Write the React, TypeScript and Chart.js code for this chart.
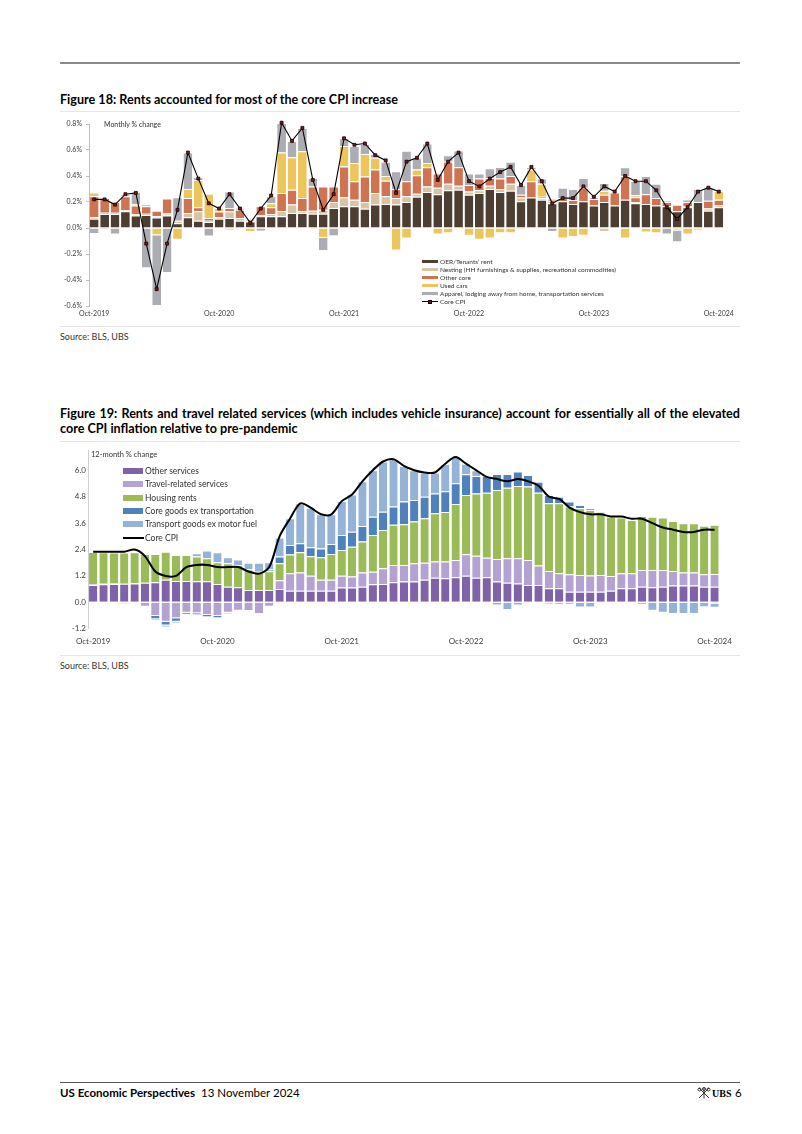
import React, { useEffect, useRef } from "react";
import { Chart, registerables } from "chart.js";

Chart.register(...registerables);

// ---------- categories ----------
const MONTH_NAMES = ["Jan", "Feb", "Mar", "Apr", "May", "Jun", "Jul", "Aug", "Sep", "Oct", "Nov", "Dec"];
const categories: string[] = [];
for (let i = 0; i < 61; i++) {
  const m = (9 + i) % 12;
  const y = 2019 + Math.floor((9 + i) / 12);
  categories.push(`${MONTH_NAMES[m]}-${y}`);
}
const xTickLabels = ["Oct-2019", "Oct-2020", "Oct-2021", "Oct-2022", "Oct-2023", "Oct-2024"];

// ---------- Figure 18 (monthly % change, contributions) ----------
const oerRent = [
  0.072, 0.108, 0.108, 0.128, 0.097, 0.1, 0.08, 0.097, 0.036, 0.082,
  0.056, 0.046, 0.072, 0.077, 0.056, 0.05, 0.09, 0.09, 0.09, 0.115,
  0.115, 0.11, 0.11, 0.154, 0.167, 0.167, 0.149, 0.18, 0.185, 0.18,
  0.2, 0.24, 0.277, 0.26, 0.29, 0.295, 0.256, 0.27, 0.3, 0.277,
  0.287, 0.205, 0.235, 0.218, 0.19, 0.205, 0.185, 0.205, 0.174, 0.2,
  0.174, 0.218, 0.19, 0.185, 0.174, 0.167, 0.128, 0.16, 0.2, 0.133,
  0.16,
];
const nesting = [
  0.01, 0.01, 0.01, 0.01, 0.01, 0.01, 0.01, 0.015, 0.02, 0.033,
  0.072, 0.01, 0.01, 0.051, 0.021, 0.005, 0.01, 0.018, 0.04, 0.065,
  0.013, 0.023, 0.03, 0.046, 0.069, 0.051, 0.051, 0.09, 0.059, 0.05,
  0.044, 0.024, 0.043, 0.05, 0.05, 0.03, 0.024, 0.02, 0.025, 0.023,
  0.053, 0.03, 0.0, 0.01, 0.015, 0.0, 0.0, 0.0, 0.0, -0.03,
  0.0, 0.0, 0.01, -0.005, 0.0, 0.0, 0.0, 0.005, 0.0, 0.017,
  0.013,
];
const otherCore = [
  0.162, 0.112, 0.082, 0.106, 0.067, 0.057, 0.043, 0.114, 0.0, 0.115,
  0.032, 0.021, 0.045, 0.026, 0.064, 0.01, 0.067, 0.052, 0.14, 0.115,
  0.102, 0.187, 0.18, 0.12, 0.238, 0.142, 0.197, 0.18, 0.12, 0.07,
  0.116, 0.141, 0.147, 0.11, 0.17, 0.142, 0.05, 0.09, 0.06, 0.08,
  0.06, 0.021, 0.125, 0.012, 0.013, 0.025, 0.03, 0.105, 0.05, 0.056,
  0.1, 0.18, 0.036, 0.075, 0.056, 0.033, 0.05, 0.035, 0.0, 0.06,
  0.045,
];
const usedCars = [
  0.03, 0.0, 0.0, 0.0, 0.011, 0.018, -0.056, 0.0, -0.09, 0.07,
  0.21, 0.187, 0.025, -0.02, 0.0, -0.03, 0.0, 0.03, 0.31, 0.25,
  0.36, -0.01, -0.077, 0.0, 0.156, 0.14, 0.173, 0.09, 0.036, -0.174,
  -0.08, 0.045, 0.033, -0.05, -0.04, -0.01, -0.06, -0.09, -0.08, -0.04,
  -0.04, -0.01, 0.09, 0.1, 0.01, -0.08, -0.07, -0.06, 0.0, 0.03,
  0.0, -0.08, 0.015, -0.03, -0.04, 0.01, -0.02, -0.05, -0.02, 0.0,
  0.069,
];
const apparelEtc = [
  -0.046, -0.01, -0.05, 0.016, 0.092, -0.31, -0.544, -0.346, 0.18, 0.28,
  0.02, -0.065, 0.0, 0.126, 0.013, 0.005, -0.026, 0.055, 0.24, 0.125,
  0.18, 0.065, -0.1, -0.064, 0.06, 0.13, 0.076, 0.03, 0.11, 0.136,
  0.235, 0.09, 0.15, 0.0, 0.05, 0.13, 0.09, 0.04, 0.075, 0.09,
  0.11, 0.074, 0.02, 0.04, -0.03, 0.08, 0.085, 0.075, 0.015, 0.06,
  0.0, 0.07, 0.11, 0.14, 0.11, -0.05, -0.09, 0.02, 0.1, 0.1,
  0.0,
];
const coreCpiMonthly = [
  0.22, 0.22, 0.18, 0.26, 0.27, -0.12, -0.47, -0.12, 0.14, 0.58,
  0.38, 0.19, 0.15, 0.26, 0.15, 0.04, 0.15, 0.25, 0.81, 0.67,
  0.77, 0.37, 0.14, 0.26, 0.69, 0.64, 0.65, 0.56, 0.52, 0.27,
  0.51, 0.54, 0.65, 0.37, 0.51, 0.58, 0.36, 0.32, 0.38, 0.43,
  0.47, 0.33, 0.47, 0.36, 0.19, 0.23, 0.23, 0.32, 0.24, 0.32,
  0.28, 0.4, 0.36, 0.36, 0.29, 0.16, 0.07, 0.16, 0.28, 0.31,
  0.28,
];
const fig18YTicks = [-0.6, -0.4, -0.2, 0.0, 0.2, 0.4, 0.6, 0.8];

// ---------- Figure 19 (12-month % change, contributions) ----------
const otherServices = [
  0.79, 0.82, 0.83, 0.84, 0.86, 0.89, 0.91, 1.02, 0.97, 0.97,
  0.96, 0.96, 0.83, 0.71, 0.68, 0.56, 0.56, 0.56, 0.6, 0.53,
  0.53, 0.53, 0.53, 0.53, 0.67, 0.67, 0.71, 0.82, 0.83, 0.91,
  0.94, 0.94, 1.02, 1.12, 1.09, 1.14, 1.21, 1.12, 1.14, 0.94,
  0.89, 0.86, 0.79, 0.79, 0.64, 0.64, 0.48, 0.48, 0.48, 0.48,
  0.52, 0.64, 0.64, 0.71, 0.68, 0.71, 0.76, 0.76, 0.76, 0.71,
  0.71,
];
const travelServices = [
  0.03, 0.02, 0.02, -0.07, 0.01, -0.2, -0.62, -0.88, -0.73, -0.47,
  -0.5, -0.58, -0.62, -0.47, -0.38, -0.4, -0.53, -0.2, 0.4, 0.79,
  0.83, 0.68, 0.49, 0.49, 0.54, 0.5, 0.65, 0.57, 0.72, 0.79,
  0.76, 0.83, 0.78, 0.73, 0.77, 0.78, 0.97, 1.0, 0.89, 1.03,
  1.11, 1.14, 1.13, 0.88, 0.78, 0.68, 0.79, 0.76, 0.74, 0.76,
  0.68, 0.68, 0.68, 0.76, 0.79, 0.76, 0.66, 0.6, 0.59, 0.56,
  0.58,
];
const housingRents = [
  1.47, 1.43, 1.41, 1.42, 1.4, 1.31, 1.29, 1.28, 1.18, 1.18,
  1.12, 1.04, 0.99, 1.06, 1.02, 0.94, 0.83, 0.85, 0.77, 0.85,
  0.91, 0.88, 1.03, 1.18, 1.17, 1.36, 1.4, 1.67, 1.74, 1.82,
  1.85, 1.9, 2.02, 2.2, 2.25, 2.55, 2.7, 2.83, 2.95, 3.14,
  3.21, 3.29, 3.34, 3.31, 3.08, 3.18, 3.08, 3.03, 2.98, 2.88,
  2.7, 2.53, 2.42, 2.45, 2.42, 2.38, 2.28, 2.23, 2.24, 2.21,
  2.23,
];
const coreGoodsExTransport = [
  0, 0, 0, 0, 0, 0, -0.15, -0.18, -0.15, -0.1,
  -0.09, -0.1, -0.1, -0.05, 0, 0, 0, 0.08, 0.31, 0.43,
  0.41, 0.41, 0.4, 0.45, 0.68, 0.68, 0.71, 0.83, 0.83, 0.83,
  1.03, 0.98, 0.98, 0.9, 0.94, 0.94, 0.94, 0.79, 0.76, 0.72,
  0.62, 0.65, 0.53, 0.5, 0.38, 0.3, 0.23, 0.15, 0.07, 0.0,
  0, 0, 0, -0.03, -0.03, -0.03, -0.03, -0.03, -0.03, -0.03,
  -0.05,
];
const transportGoodsExFuel = [
  0, 0, 0, 0, 0, 0, -0.06, -0.07, -0.07, 0,
  0.15, 0.35, 0.45, 0.28, 0.25, 0.3, 0.41, 0.33, 0.87, 1.22,
  1.82, 1.8, 1.55, 1.35, 1.54, 1.69, 2.03, 2.11, 2.28, 2.15,
  1.62, 1.35, 1.1, 0.95, 1.24, 1.19, 0.48, 0.26, -0.05, -0.15,
  -0.35, -0.15, -0.05, 0, -0.08, -0.1, -0.1, -0.24, -0.24, -0.05,
  -0.02, 0, -0.02, -0.08, -0.35, -0.45, -0.5, -0.5, -0.5, -0.2,
  -0.2,
];
const coreCpiYoY = [
  2.3, 2.3, 2.3, 2.3, 2.4, 2.1, 1.4, 1.2, 1.2, 1.6,
  1.7, 1.7, 1.6, 1.6, 1.6, 1.4, 1.3, 1.6, 3.0, 3.8,
  4.5, 4.3, 4.0, 4.0, 4.6, 4.9, 5.5, 6.0, 6.4, 6.5,
  6.2, 6.0, 5.9, 5.9, 6.3, 6.6, 6.3, 6.0, 5.7, 5.6,
  5.5, 5.6, 5.5, 5.3, 4.8, 4.7, 4.3, 4.1, 4.0, 4.0,
  3.9, 3.9, 3.8, 3.8, 3.6, 3.4, 3.3, 3.2, 3.2, 3.3,
  3.3,
];
const fig19YTicks = [-1.2, 0.0, 1.2, 2.4, 3.6, 4.8, 6.0];

// ---------- styles ----------
const FONT = "Lato, 'Liberation Sans', sans-serif";
const C18 = {
  oer: "#4d3e33",
  nest: "#d9c3a3",
  other: "#cf7452",
  used: "#ecc65c",
  apparel: "#abadb3",
  cpiMarker: "#6e1b1b",
};
const C19 = {
  other: "#8062a8",
  travel: "#b4a2d2",
  housing: "#9bbb59",
  goods: "#4f81bd",
  transport: "#95b3d7",
};

const pickTick = (i: number) => (xTickLabels.includes(categories[i]) ? categories[i] : "");

function useChart(ref: React.RefObject<HTMLCanvasElement | null>, build: (ctx: HTMLCanvasElement) => Chart) {
  useEffect(() => {
    if (!ref.current) return;
    const ch = build(ref.current);
    return () => ch.destroy();
  }, []);
}

function Figure18Chart() {
  const ref = useRef<HTMLCanvasElement | null>(null);
  useChart(ref, (el) => {
    const bar = (label: string, data: number[], color: string) => ({
      type: "bar" as const,
      label,
      data,
      backgroundColor: color,
      borderColor: "#ffffff",
      borderWidth: { top: 1, bottom: 1, left: 0, right: 0 },
      borderSkipped: "start" as const,
      barPercentage: 0.84,
      categoryPercentage: 1,
      order: 1,
      stack: "s",
    });
    return new Chart(el, {
      type: "bar",
      data: {
        labels: categories,
        datasets: [
          {
            type: "line",
            label: "Core CPI",
            data: coreCpiMonthly,
            borderColor: "#000000",
            borderWidth: 1.1,
            pointStyle: "rect",
            pointRadius: 2.1,
            pointBackgroundColor: C18.cpiMarker,
            pointBorderColor: "#200000",
            pointBorderWidth: 0.8,
            tension: 0,
            order: 0,
            stack: "cpi",
            clip: false,
          } as any,
          bar("OER/Tenants' rent", oerRent, C18.oer),
          bar("Nesting (HH furnishings & supplies, recreational commodities)", nesting, C18.nest),
          bar("Other core", otherCore, C18.other),
          bar("Used cars", usedCars, C18.used),
          bar("Apparel, lodging away from home, transportation services", apparelEtc, C18.apparel),
        ],
      },
      options: {
        animation: false,
        responsive: false,
        maintainAspectRatio: false,
        layout: { padding: { top: 14, right: 16, left: 0, bottom: 0 } },
        plugins: { legend: { display: false }, tooltip: { enabled: false } },
        scales: {
          x: {
            stacked: true,
            grid: { display: false, drawTicks: false },
            border: { display: false },
            ticks: {
              autoSkip: false,
              maxRotation: 0,
              minRotation: 0,
              padding: 4,
              color: "#404040",
              font: { family: FONT, size: 7 },
              callback: (_v: any, i: number) => pickTick(i),
            },
            afterFit: (s: any) => {
              s.height = 19;
            },
          },
          y: {
            stacked: true,
            min: fig18YTicks[0],
            max: fig18YTicks[fig18YTicks.length - 1],
            afterBuildTicks: (s: any) => {
              s.ticks = fig18YTicks.map((v) => ({ value: v }));
            },
            ticks: {
              padding: 4,
              color: "#404040",
              font: { family: FONT, size: 7 },
              callback: (v: any) => Number(v).toFixed(1) + "%",
            },
            grid: { drawOnChartArea: false, drawTicks: true, tickLength: 3, color: "#bfbfbf" },
            border: { display: true, color: "#bfbfbf" },
            afterFit: (s: any) => {
              s.width = 49;
            },
          },
        },
      },
    } as any);
  });
  return <canvas ref={ref} width={700} height={215} style={{ position: "absolute", left: 40, top: 110, width: 700, height: 215 }} />;
}

function Figure19Chart() {
  const ref = useRef<HTMLCanvasElement | null>(null);
  useChart(ref, (el) => {
    const bar = (label: string, data: number[], color: string) => ({
      type: "bar" as const,
      label,
      data,
      backgroundColor: color,
      borderColor: "#ffffff",
      borderWidth: { top: 1, bottom: 1, left: 0, right: 0 },
      borderSkipped: "start" as const,
      barPercentage: 0.8,
      categoryPercentage: 1,
      order: 1,
      stack: "s",
    });
    return new Chart(el, {
      type: "bar",
      data: {
        labels: categories,
        datasets: [
          {
            type: "line",
            label: "Core CPI",
            data: coreCpiYoY,
            borderColor: "#000000",
            borderWidth: 2,
            pointRadius: 0,
            tension: 0.3,
            order: 0,
            stack: "cpi",
            clip: false,
          } as any,
          bar("Other services", otherServices, C19.other),
          bar("Travel-related services", travelServices, C19.travel),
          bar("Housing rents", housingRents, C19.housing),
          bar("Core goods ex transportation", coreGoodsExTransport, C19.goods),
          bar("Transport goods ex motor fuel", transportGoodsExFuel, C19.transport),
        ],
      },
      options: {
        animation: false,
        responsive: false,
        maintainAspectRatio: false,
        layout: { padding: { top: 10.5, right: 20, left: 0, bottom: 0 } },
        plugins: { legend: { display: false }, tooltip: { enabled: false } },
        scales: {
          x: {
            stacked: true,
            grid: { display: false, drawTicks: false },
            border: { display: false },
            ticks: {
              autoSkip: false,
              maxRotation: 0,
              minRotation: 0,
              padding: 8,
              color: "#404040",
              font: { family: FONT, size: 8 },
              callback: (_v: any, i: number) => pickTick(i),
            },
            afterFit: (s: any) => {
              s.height = 26.3;
            },
          },
          y: {
            stacked: true,
            min: -1.2,
            max: 6.9,
            afterBuildTicks: (s: any) => {
              s.ticks = fig19YTicks.map((v) => ({ value: v }));
            },
            ticks: {
              padding: 2,
              color: "#404040",
              font: { family: FONT, size: 8 },
              callback: (v: any) => Number(v).toFixed(1),
            },
            grid: { drawOnChartArea: false, drawTicks: false, color: "#d0d0d0" },
            border: { display: true, color: "#d0d0d0" },
            afterFit: (s: any) => {
              s.width = 48;
            },
          },
        },
      },
    } as any);
  });
  return <canvas ref={ref} width={700} height={215} style={{ position: "absolute", left: 40, top: 440, width: 700, height: 215 }} />;
}

const abs = (left: number, top: number, extra: React.CSSProperties = {}): React.CSSProperties => ({
  position: "absolute",
  left,
  top,
  whiteSpace: "nowrap",
  ...extra,
});

function Legend18() {
  const rows: { label: string; color: string; marker?: boolean }[] = [
    { label: "OER/Tenants\u2019 rent", color: C18.oer },
    { label: "Nesting (HH furnishings & supplies, recreational commodities)", color: C18.nest },
    { label: "Other core", color: C18.other },
    { label: "Used cars", color: C18.used },
    { label: "Apparel, lodging away from home, transportation services", color: C18.apparel },
    { label: "Core CPI", color: "#000", marker: true },
  ];
  return (
    <>
      {rows.map((r, k) => {
        const cy = 261.7 + 8 * k;
        return (
          <React.Fragment key={k}>
            {r.marker ? (
              <>
                <div style={abs(422, cy - 0.5, { width: 16, height: 1, background: "#000" })} />
                <div style={abs(428, cy - 2, { width: 4, height: 4, background: C18.cpiMarker, boxSizing: "border-box", border: "0.8px solid #200000" })} />
              </>
            ) : (
              <div style={abs(422, cy - 1.5, { width: 16, height: 3, background: r.color })} />
            )}
            <div style={abs(440, cy - 5, { fontFamily: FONT, fontSize: 6.5, lineHeight: "10px", color: "#333" })}>{r.label}</div>
          </React.Fragment>
        );
      })}
    </>
  );
}

function Legend19() {
  const rows: { label: string; color: string; line?: boolean }[] = [
    { label: "Other services", color: C19.other },
    { label: "Travel-related services", color: C19.travel },
    { label: "Housing rents", color: C19.housing },
    { label: "Core goods ex transportation", color: C19.goods },
    { label: "Transport goods ex motor fuel", color: C19.transport },
    { label: "Core CPI", color: "#000", line: true },
  ];
  return (
    <>
      {rows.map((r, k) => {
        const cy = 471 + 13.33 * k;
        return (
          <React.Fragment key={k}>
            {r.line ? (
              <div style={abs(123, cy - 1, { width: 21, height: 2, background: "#000" })} />
            ) : (
              <div style={abs(123, cy - 3, { width: 20, height: 6, background: r.color })} />
            )}
            <div style={abs(145, cy - 6, { fontFamily: FONT, fontSize: 8.5, lineHeight: "12px", color: "#333" })}>{r.label}</div>
          </React.Fragment>
        );
      })}
    </>
  );
}

function UbsLogo() {
  return (
    <svg width="14" height="12" viewBox="0 0 14 12" style={{ position: "absolute", left: 697, top: 1087 }}>
      <g stroke="#333" strokeWidth="1" fill="none">
        <line x1="2" y1="11" x2="12" y2="1" />
        <line x1="12" y1="11" x2="2" y2="1" />
        <line x1="7" y1="11.5" x2="7" y2="1" />
        <circle cx="7" cy="2" r="1.5" />
        <circle cx="2.5" cy="2.5" r="1.5" />
        <circle cx="11.5" cy="2.5" r="1.5" />
      </g>
    </svg>
  );
}

const titleStyle: React.CSSProperties = { fontFamily: FONT, fontWeight: 700, fontSize: 12.6, color: "#000" };

export default function App() {
  return (
    <div style={{ position: "absolute", left: 0, top: 0, width: 802, height: 1134, background: "#fff", overflow: "hidden" }}>
      {/* top rule */}
      <div style={abs(60, 62, { width: 680, height: 2, background: "#8a8a8a" })} />

      {/* Figure 18 */}
      <div style={abs(60, 92, { ...titleStyle, lineHeight: "16px" })}>
        Figure 18: Rents accounted for most of the core CPI increase
      </div>
      <div style={abs(60, 110.5, { width: 680, height: 1, background: "#e6e6e6" })} />
      <Figure18Chart />
      <div style={abs(104, 118, { fontFamily: FONT, fontSize: 7, lineHeight: "12px", color: "#333" })}>Monthly % change</div>
      <Legend18 />
      <div style={abs(60, 325.5, { width: 680, height: 1, background: "#e6e6e6" })} />
      <div style={abs(60, 331, { fontFamily: FONT, fontSize: 9, lineHeight: "12px", color: "#333" })}>Source: BLS, UBS</div>

      {/* Figure 19 (first line justified to full width, as in the source) */}
      <div style={abs(60, 407, { ...titleStyle, lineHeight: "14.5px", width: 680, textAlign: "justify", textAlignLast: "justify" as any })}>
        Figure 19: Rents and travel related services (which includes vehicle insurance) account for essentially all of the elevated
      </div>
      <div style={abs(60, 421.5, { ...titleStyle, lineHeight: "14.5px" })}>core CPI inflation relative to pre-pandemic</div>
      <div style={abs(60, 440.5, { width: 680, height: 1, background: "#e6e6e6" })} />
      <Figure19Chart />
      <div style={abs(91, 449, { fontFamily: FONT, fontSize: 7.5, lineHeight: "12px", color: "#333" })}>12-month % change</div>
      <Legend19 />
      <div style={abs(60, 654.5, { width: 680, height: 1, background: "#e6e6e6" })} />
      <div style={abs(60, 660, { fontFamily: FONT, fontSize: 9, lineHeight: "12px", color: "#333" })}>Source: BLS, UBS</div>

      {/* footer */}
      <div style={abs(60, 1082, { width: 680, height: 1, background: "#555" })} />
      <div style={abs(60, 1086, { fontFamily: FONT, fontSize: 11.5, lineHeight: "14px", color: "#000" })}>
        <span style={{ fontWeight: 700 }}>US Economic Perspectives</span>
        <span style={{ marginLeft: 6 }}>13 November 2024</span>
      </div>
      <UbsLogo />
      <div style={abs(712, 1086.5, { fontFamily: "'Liberation Serif', serif", fontWeight: 700, fontSize: 10, lineHeight: "14px", color: "#000" })}>UBS</div>
      <div style={abs(735, 1086, { fontFamily: FONT, fontSize: 11.5, lineHeight: "14px", color: "#000" })}>6</div>
    </div>
  );
}
